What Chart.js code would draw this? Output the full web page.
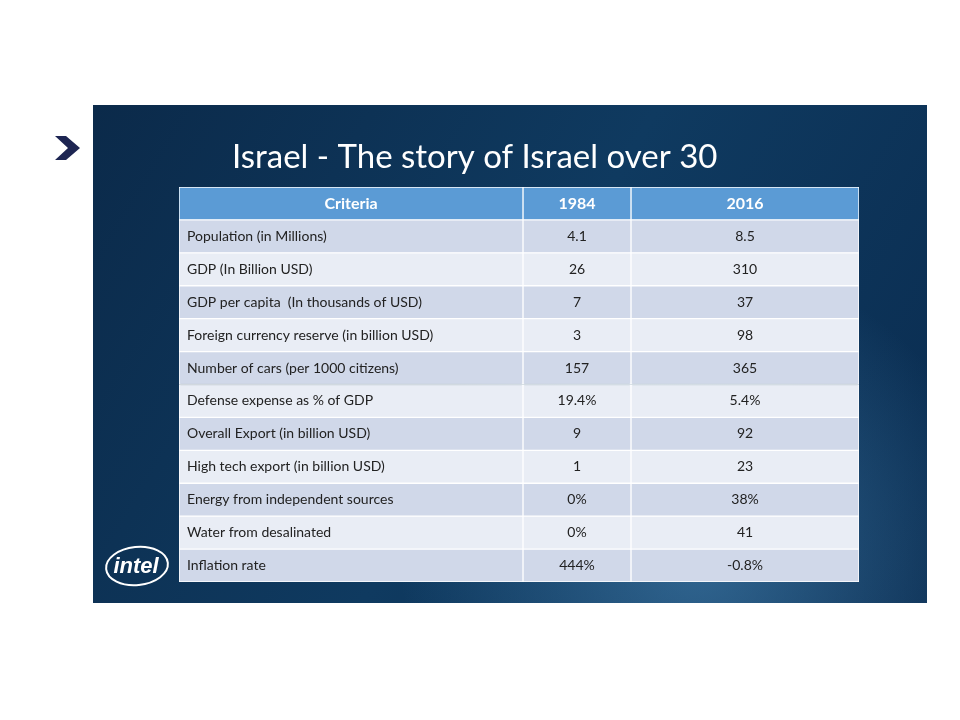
<!DOCTYPE html>
<html>
<head>
<meta charset="utf-8">
<script src="https://cdn.jsdelivr.net/npm/chart.js@4"></script>
<style>
  html, body { margin: 0; padding: 0; background: #fff; }
  #wrap { width: 960px; height: 720px; }
</style>
</head>
<body>
<div id="wrap"><canvas id="tableChart" width="960" height="720"></canvas></div>
<script>
'use strict';

// table data
var headers = ['Criteria', '1984', '2016'];
var criteria = [
  'Population (in Millions)',
  'GDP (In Billion USD)',
  'GDP per capita  (In thousands of USD)',
  'Foreign currency reserve (in billion USD)',
  'Number of cars (per 1000 citizens)',
  'Defense expense as % of GDP',
  'Overall Export (in billion USD)',
  'High tech export (in billion USD)',
  'Energy from independent sources',
  'Water from desalinated',
  'Inflation rate'
];
var values1984 = ['4.1', '26', '7', '3', '157', '19.4%', '9', '1', '0%', '0%', '444%'];
var values2016 = ['8.5', '310', '37', '98', '365', '5.4%', '92', '23', '38%', '41', '-0.8%'];

// column edges (table units)
var colEdges = [0, 344, 452, 680];

(function () {
  var rows = ['header'].concat(criteria);
  var texts = [headers.slice()];
  criteria.forEach(function (c, i) { texts.push([c, values1984[i], values2016[i]]); });

  function rowColor(i) {
    if (i === 0) return '#5b9bd5';
    return i % 2 === 1 ? '#d0d8e9' : '#e9edf5';
  }

  var datasets = [0, 1, 2].map(function (c) {
    return {
      data: rows.map(function () { return [colEdges[c], colEdges[c + 1]]; }),
      backgroundColor: rows.map(function (r, i) { return rowColor(i); }),
      borderColor: '#ffffff',
      borderWidth: 1,
      borderSkipped: false,
      grouped: false,
      barPercentage: 1,
      categoryPercentage: 1
    };
  });

  var slidePlugin = {
    id: 'slide',
    beforeDraw: function (chart) {
      var ctx = chart.ctx;
      ctx.save();
      ctx.fillStyle = '#ffffff';
      ctx.fillRect(0, 0, 960, 720);
      var g = ctx.createLinearGradient(93, 105, 927, 603);
      g.addColorStop(0, '#0b2a4a');
      g.addColorStop(0.5, '#0f3a60');
      g.addColorStop(1, '#0a2c50');
      ctx.fillStyle = g;
      ctx.fillRect(93, 105, 834, 498);
      var rg = ctx.createRadialGradient(700, 560, 10, 700, 560, 300);
      rg.addColorStop(0, 'rgba(90,160,210,0.45)');
      rg.addColorStop(1, 'rgba(90,160,210,0)');
      ctx.fillStyle = rg;
      ctx.fillRect(93, 105, 834, 498);
      // chevron
      ctx.fillStyle = '#1d2552';
      ctx.beginPath();
      ctx.moveTo(55, 136); ctx.lineTo(66, 136); ctx.lineTo(80, 148);
      ctx.lineTo(66, 160); ctx.lineTo(55, 160); ctx.lineTo(68, 148);
      ctx.closePath(); ctx.fill();
      // title
      ctx.fillStyle = '#ffffff';
      ctx.font = '33px Lato, "Open Sans", sans-serif';
      ctx.textBaseline = 'middle';
      ctx.textAlign = 'left';
      ctx.fillText('Israel - The story of Israel over 30', 232, 157);
      // intel logo
      ctx.strokeStyle = '#ffffff';
      ctx.lineWidth = 2;
      ctx.beginPath();
      ctx.ellipse(137, 566, 31, 19, -0.1, 0, Math.PI * 2);
      ctx.stroke();
      ctx.font = 'bold italic 22px "Liberation Sans", sans-serif';
      ctx.fillStyle = '#ffffff';
      ctx.textAlign = 'center';
      ctx.fillText('intel', 136, 567);
      ctx.restore();
    }
  };

  var textPlugin = {
    id: 'cellText',
    afterDatasetsDraw: function (chart) {
      var ctx = chart.ctx;
      ctx.save();
      ctx.textBaseline = 'middle';
      chart.data.datasets.forEach(function (ds, c) {
        chart.getDatasetMeta(c).data.forEach(function (bar, r) {
          var p = bar.getProps(['x', 'y', 'base'], true);
          var left = Math.min(p.x, p.base), right = Math.max(p.x, p.base);
          if (r === 0) {
            ctx.font = 'bold 16px Lato, "Open Sans", sans-serif';
            ctx.fillStyle = '#ffffff';
            ctx.textAlign = 'center';
            ctx.fillText(texts[r][c], (left + right) / 2, p.y);
          } else {
            ctx.font = '14px Lato, "Open Sans", sans-serif';
            ctx.fillStyle = '#222222';
            if (c === 0) {
              ctx.textAlign = 'left';
              ctx.fillText(texts[r][c], left + 8, p.y);
            } else {
              ctx.textAlign = 'center';
              ctx.fillText(texts[r][c], (left + right) / 2, p.y);
            }
          }
        });
      });
      ctx.restore();
    }
  };

  new Chart(document.getElementById('tableChart').getContext('2d'), {
    type: 'bar',
    data: { labels: rows, datasets: datasets },
    plugins: [slidePlugin, textPlugin],
    options: {
      responsive: false,
      animation: false,
      indexAxis: 'y',
      layout: { padding: { left: 179, right: 101, top: 187, bottom: 138 } },
      plugins: { legend: { display: false }, tooltip: { enabled: false } },
      scales: {
        x: { type: 'linear', min: 0, max: 680, display: false },
        y: { type: 'category', display: false, offset: true }
      }
    }
  });
})();
</script>
</body>
</html>
